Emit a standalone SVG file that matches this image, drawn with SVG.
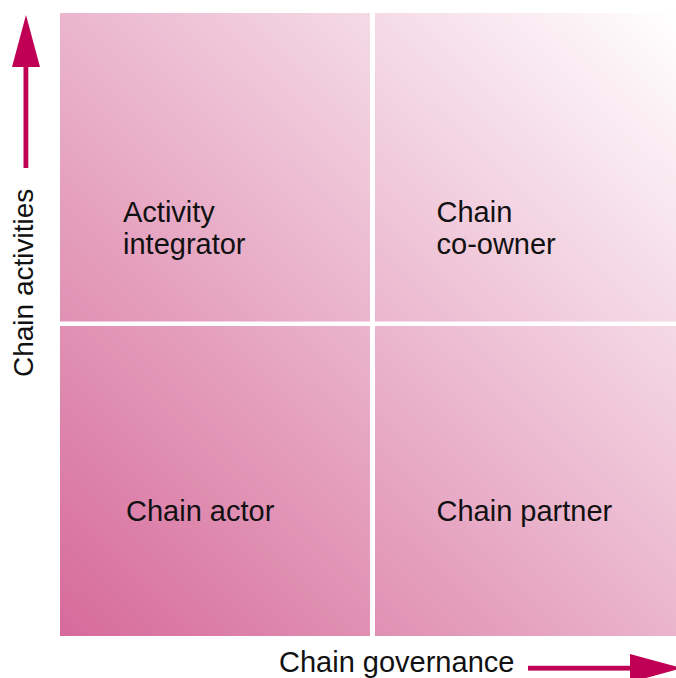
<svg xmlns="http://www.w3.org/2000/svg" width="676" height="678" viewBox="0 0 676 678">
  <style>
    .lbl { font-family: "Liberation Sans", Arial, sans-serif; font-size: 29px; fill: #111111; }
    .axis { fill: #bf0055; }
    .div { stroke: #ffffff; }
  </style>
  <defs>
    <linearGradient id="bg" gradientUnits="userSpaceOnUse" x1="60" y1="636" x2="676" y2="13">
      <stop offset="0" stop-color="#d66a9a"/>
      <stop offset="1" stop-color="#ffffff"/>
    </linearGradient>
  </defs>
  <rect width="676" height="678" fill="#ffffff"/>
  <g id="matrix">
    <rect x="60" y="13" width="616" height="623" fill="url(#bg)"/>
    <line class="div" x1="372.5" y1="13" x2="372.5" y2="636" stroke-width="5"/>
    <line class="div" x1="60" y1="323.8" x2="676" y2="323.8" stroke-width="4.5"/>
  </g>
  <g id="activity-integrator">
    <text class="lbl" x="123" y="222">Activity</text>
    <text class="lbl" x="123" y="254">integrator</text>
  </g>
  <g id="chain-co-owner">
    <text class="lbl" x="436.5" y="222">Chain</text>
    <text class="lbl" x="436.5" y="254">co-owner</text>
  </g>
  <g id="chain-actor">
    <text class="lbl" x="126" y="521">Chain actor</text>
  </g>
  <g id="chain-partner">
    <text class="lbl" x="436.5" y="521">Chain partner</text>
  </g>
  <g id="axis-labels">
    <text class="lbl" x="279" y="671.5">Chain governance</text>
    <text class="lbl" style="font-size:28px" transform="translate(32.5,377) rotate(-90)">Chain activities</text>
  </g>
  <g id="connectors">
    <rect class="axis" x="23.5" y="64" width="4.8" height="104"/>
    <polygon class="axis" points="26,15 40,67 12,67"/>
    <rect class="axis" x="528" y="665.8" width="106" height="4.8"/>
    <polygon class="axis" points="630,654 682,668.2 630,682.4"/>
  </g>
</svg>
